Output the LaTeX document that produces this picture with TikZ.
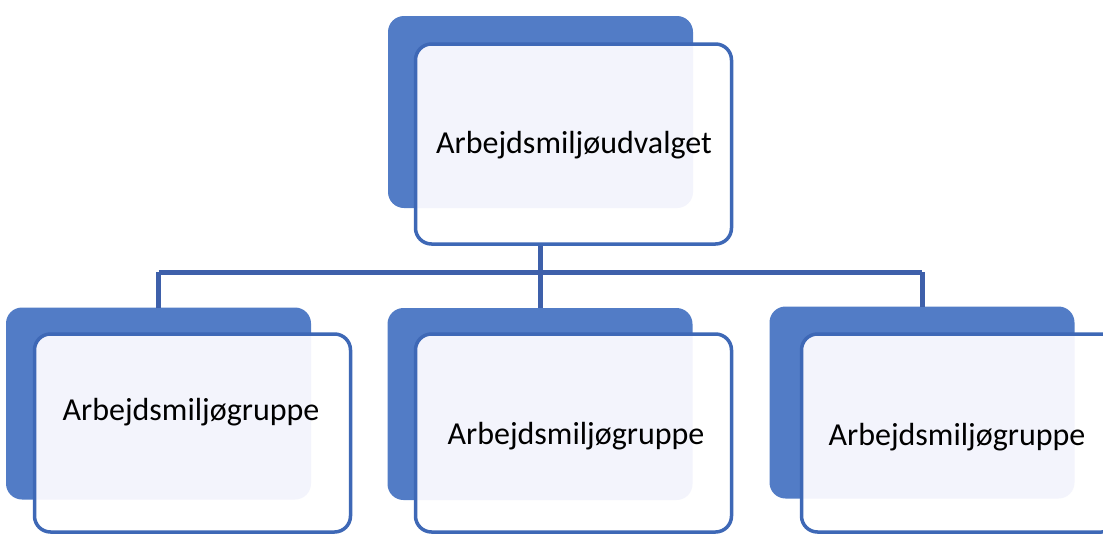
\documentclass[tikz,border=0pt]{standalone}
\usepackage{fontspec}
\setmainfont{Carlito}
\definecolor{backblue}{RGB}{82,124,198}
\definecolor{lineblue}{RGB}{62,104,182}
\definecolor{tintcol}{RGB}{243,244,252}
\definecolor{connblue}{RGB}{62,96,170}
\tikzset{
  backbox/.style={rectangle, rounded corners=16pt, fill=backblue, draw=none, outer sep=0pt, inner sep=0pt, minimum width=305pt, minimum height=192pt},
  frontbox/.style={rectangle, rounded corners=16pt, fill=white, draw=none, outer sep=0pt, inner sep=0pt, minimum width=316pt, minimum height=198pt},
  frontline/.style={draw=lineblue, line width=3.5pt, rounded corners=16pt},
  tintfill/.style={fill=tintcol, rounded corners=16pt},
  conn/.style={draw=connblue, line width=5pt},
  lbl/.style={font=\fontsize{32}{38}\selectfont, text=black, inner sep=0pt}
}
\begin{document}
\begin{tikzpicture}[x=1pt,y=-1pt]
\useasboundingbox (0,0) rectangle (1103,536);
% back boxes
\node[backbox] (tb) at (540.5,112) {};
\node[backbox] (b1b) at (158.5,403.5) {};
\node[backbox] (b2b) at (540,404) {};
\node[backbox] (b3b) at (922,402.5) {};
% connectors
\coordinate (bus) at (540,272);
\draw[conn] (tb.center |- 0,240) -- (tb.center |- bus);
\draw[conn] (b1b.center |- bus) -- (b3b.center |- bus);
\draw[conn] (b1b.center |- bus) -- (b1b.north);
\draw[conn] (b2b.center |- bus) -- (b2b.north);
\draw[conn] (b3b.center |- bus) -- (b3b.north);
% front boxes
\node[frontbox, minimum height=200pt] (tf) at (573.5,144) {};
\node[frontbox] (b1f) at (192.5,433) {};
\node[frontbox] (b2f) at (573.5,433) {};
\node[frontbox] (b3f) at (959.5,433) {};
% tinted overlaps
\begin{scope}
\clip[rounded corners=16pt] (tf.north west) rectangle (tf.south east);
\fill[tintfill] (tb.north west) rectangle (tb.south east);
\end{scope}
\begin{scope}
\clip[rounded corners=16pt] (b1f.north west) rectangle (b1f.south east);
\fill[tintfill] (b1b.north west) rectangle (b1b.south east);
\end{scope}
\begin{scope}
\clip[rounded corners=16pt] (b2f.north west) rectangle (b2f.south east);
\fill[tintfill] (b2b.north west) rectangle (b2b.south east);
\end{scope}
\begin{scope}
\clip[rounded corners=16pt] (b3f.north west) rectangle (b3f.south east);
\fill[tintfill] (b3b.north west) rectangle (b3b.south east);
\end{scope}
% front borders
\draw[frontline] (tf.north west) rectangle (tf.south east);
\draw[frontline] (b1f.north west) rectangle (b1f.south east);
\draw[frontline] (b2f.north west) rectangle (b2f.south east);
\draw[frontline] (b3f.north west) rectangle (b3f.south east);
% labels
\node[lbl] (tl) at (574,145) {Arbejdsmiljøudvalget};
\node[lbl] (l1) at (191,412) {Arbejdsmiljøgruppe};
\node[lbl] (l2) at (576,436) {Arbejdsmiljøgruppe};
\node[lbl] (l3) at (957,437) {Arbejdsmiljøgruppe};
\end{tikzpicture}
\end{document}
